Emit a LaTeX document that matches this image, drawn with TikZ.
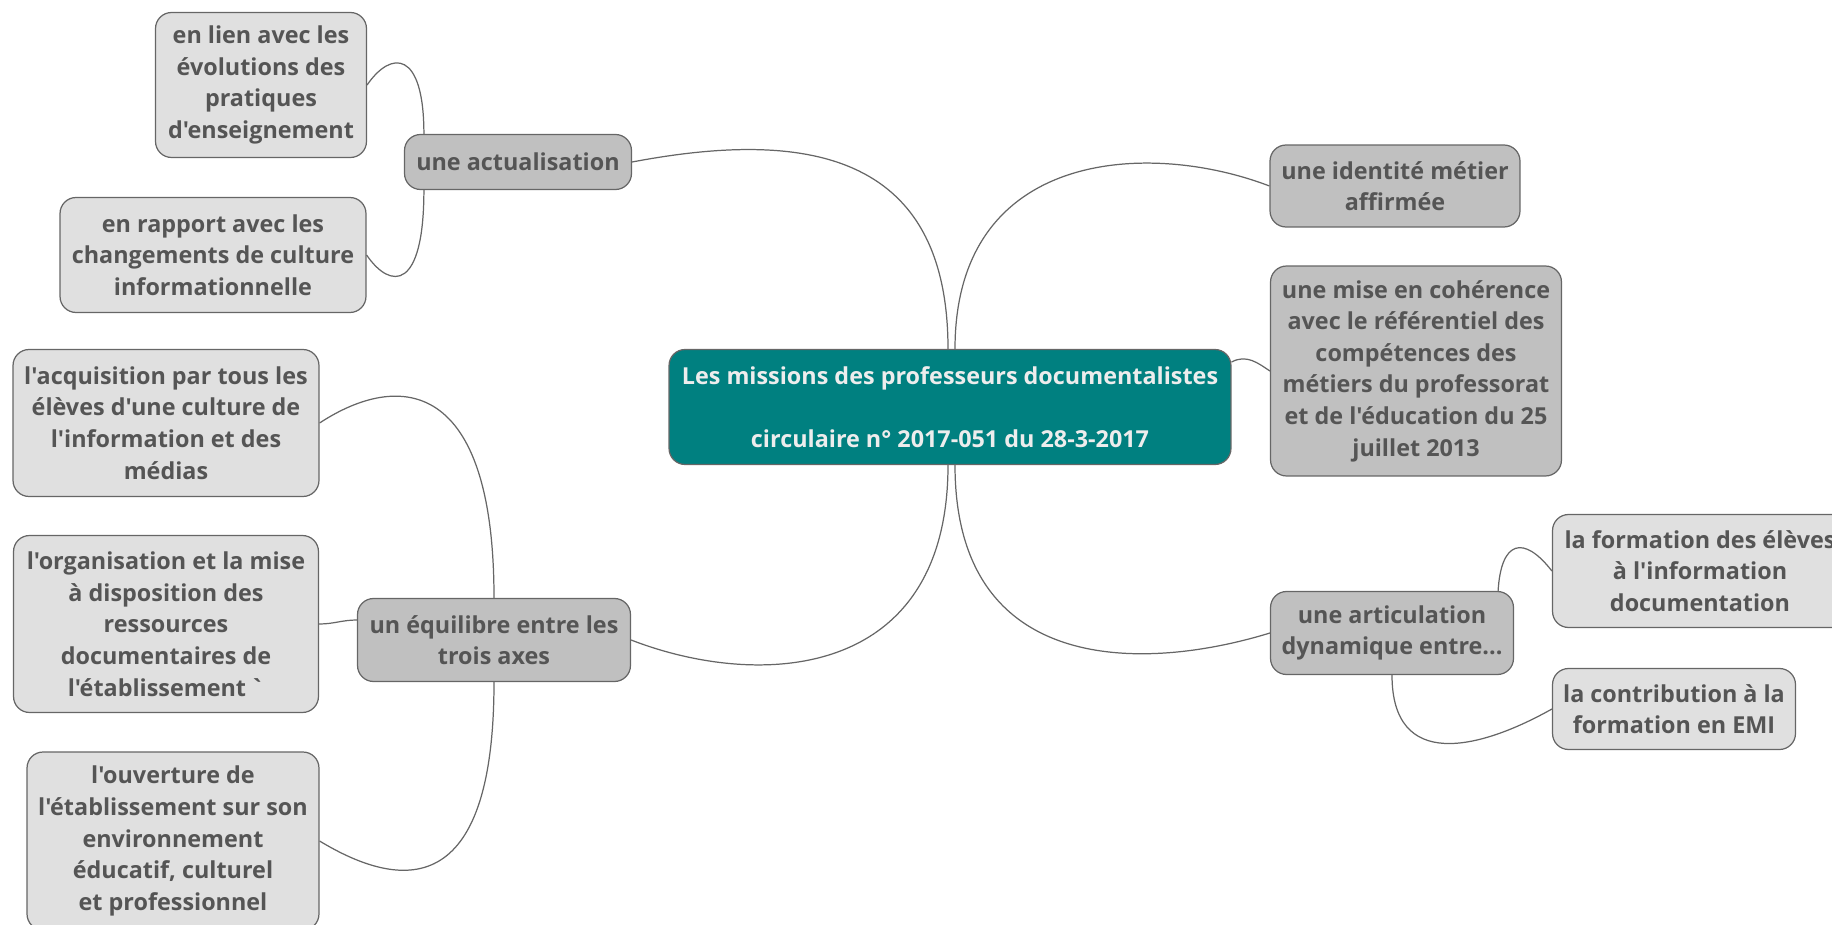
\documentclass[tikz,border=0pt]{standalone}
\usepackage{fontspec}
\usepackage{tikz}
\newfontfamily\mapfont{Open Sans}[Ligatures=TeXOff]
\definecolor{rootfill}{HTML}{008080}
\definecolor{mainfill}{HTML}{C0C0C0}
\definecolor{subfill}{HTML}{E0E0E0}
\definecolor{linegray}{HTML}{666666}
\definecolor{textgray}{HTML}{555555}

\begin{document}
\begin{tikzpicture}[x=0.02cm,y=-0.02cm,line width=0.7pt]
	\tikzstyle{every node}=[draw=linegray,text=textgray,align=center,inner sep=0pt,rounded corners=0.32cm,font=\mapfont\bfseries\fontsize{13.3}{18}\selectfont]
	\tikzstyle{topic}=[fill=rootfill,text=white!93!black]
	\tikzstyle{branch}=[fill=mainfill]
	\tikzstyle{leaf}=[fill=subfill]
	\tikzstyle{link}=[draw=linegray]

  \clip (0,0) rectangle (1832,925);

  \node[topic,minimum width=11.24cm,minimum height=2.30cm]  (R) at (950,407) {Les missions des professeurs documentalistes\\[18pt]circulaire n° 2017-051 du 28-3-2017};

  \node[branch,minimum width=4.54cm,minimum height=1.10cm]  (A) at (518,162)  {une actualisation};
  \node[leaf,minimum width=4.22cm,minimum height=2.90cm]    (L) at (261,85)   {en lien avec les\\évolutions des\\pratiques\\d'enseignement};
  \node[leaf,minimum width=6.12cm,minimum height=2.30cm]    (P) at (213,255)  {en rapport avec les\\changements de culture\\informationnelle};

  \node[branch,minimum width=5.46cm,minimum height=1.66cm]  (E) at (494,640)  {un équilibre entre les\\trois axes};
  \node[leaf,minimum width=6.12cm,minimum height=2.94cm]    (Q) at (166,423)  {l'acquisition par tous les\\élèves d'une culture de\\l'information et des\\médias};
  \node[leaf,minimum width=6.10cm,minimum height=3.54cm]    (O) at (166,624)  {l'organisation et la mise\\à disposition des\\ressources\\documentaires de\\l'établissement\,`};
  \node[leaf,minimum width=5.84cm,minimum height=3.56cm]    (U) at (173,841)  {l'ouverture de\\l'établissement sur son\\environnement\\éducatif, culturel\\et professionnel};

  \node[branch,minimum width=5.00cm,minimum height=1.64cm]  (I) at (1395,186) {une identité métier\\affirmée};
  \node[branch,minimum width=5.82cm,minimum height=4.20cm]  (M) at (1416,371) {une mise en cohérence\\avec le référentiel des\\compétences des\\métiers du professorat\\et de l'éducation du 25\\juillet 2013};
  \node[branch,minimum width=4.86cm,minimum height=1.66cm]  (T) at (1392,633) {une articulation\\dynamique entre...};
  \node[leaf,minimum width=5.90cm,minimum height=2.26cm]    (F) at (1700,571) {la formation des élèves\\à l'information\\documentation};
  \node[leaf,minimum width=4.86cm,minimum height=1.62cm]    (C) at (1674,709) {la contribution à la\\formation en EMI};

  % branches from the centre
  \draw[link] ([xshift=-0.04cm]R.north) .. controls +(0,-200) and +(169,-32) .. (A.east);
  \draw[link] ([xshift=-0.04cm]R.south) .. controls +(0,215) and +(129,50) .. (E.east);
  \draw[link] ([xshift=0.1cm]R.north) .. controls +(0,-200) and +(-120,-46) .. (I.west);
  \draw[link] ([yshift=0.9cm]R.east) .. controls +(15,-8) and +(-12,-8) .. (M.west);
  \draw[link] ([xshift=0.1cm]R.south) .. controls +(0,215) and +(-120,37) .. (T.west);

  % leaves
  \draw[link] ([xshift=0.4cm]A.north west) .. controls +(0,-84) and +(24,-35) .. (L.east);
  \draw[link] ([xshift=0.4cm]A.south west) .. controls +(0,101) and +(24,35) .. (P.east);
  \draw[link] (E.north) .. controls +(0,-218) and +(81,-53) .. (Q.east);
  \draw[link] ([yshift=0.4cm]E.west) .. controls +(-15,0) and +(15,0) .. (O.east);
  \draw[link] (E.south) .. controls +(0,219) and +(81,49) .. (U.east);
  \draw[link] ([xshift=-0.32cm]T.north east) .. controls +(3,-51) and +(-28,-36) .. (F.west);
  \draw[link] (T.south) .. controls +(0,96) and +(-73,41) .. (C.west);

\end{tikzpicture}
\end{document}
